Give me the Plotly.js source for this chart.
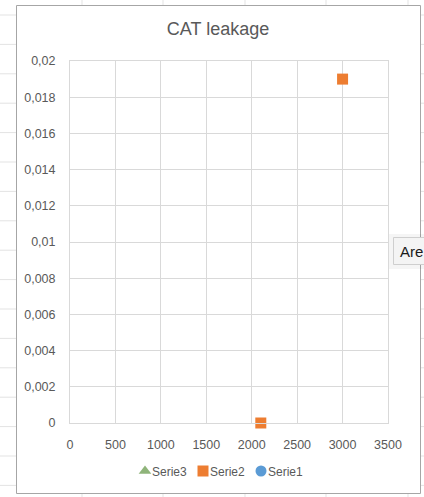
<!DOCTYPE html>
<html>
<head>
<meta charset="utf-8">
<script src="https://cdn.plot.ly/plotly-3.0.1.min.js"></script>
<style>
  html, body { margin: 0; padding: 0; background: #ffffff; }
  #chart { width: 424px; height: 497px; }
</style>
</head>
<body>
<div id="chart"></div>
<script>
// ---- data ----
var seriesNames = ['Serie3', 'Serie2', 'Serie1'];
var serie3X = [null];
var serie3Y = [null];
var serie2X = [3000, 2100];
var serie2Y = [0.019, 0];
var serie1X = [null];
var serie1Y = [null];
var xTicks = [0, 500, 1000, 1500, 2000, 2500, 3000, 3500];
var yTicks = [0, 0.002, 0.004, 0.006, 0.008, 0.01, 0.012, 0.014, 0.016, 0.018, 0.02];
var yTickLabels = ['0', '0,002', '0,004', '0,006', '0,008', '0,01', '0,012', '0,014', '0,016', '0,018', '0,02'];
var xTickLabels = ['0', '500', '1000', '1500', '2000', '2500', '3000', '3500'];

// ---- figure geometry (pixels) ----
var W = 424, H = 497;
var M = { l: 70, r: 36, t: 61, b: 74 };
var PW = W - M.l - M.r, PH = H - M.t - M.b;
function px(x) { return (x - M.l) / PW; }          // pixel x -> paper x
function py(y) { return (H - M.b - y) / PH; }      // pixel y (from top) -> paper y

var TXT = '#595959';
var FONT = 'Liberation Sans, Arial, sans-serif';

// spreadsheet cell grid behind the chart object
var shapes = [];
var cellLine = { color: '#e3e3e3', width: 1 };
for (var k = 0; k <= 16; k++) {
  var gy = 15 + 29.4 * k;
  shapes.push({ type: 'line', xref: 'paper', yref: 'paper', layer: 'below',
    x0: px(0), x1: px(W), y0: py(gy), y1: py(gy), line: cellLine });
}
[82, 163, 245, 326, 408].forEach(function (gx) {
  shapes.push({ type: 'line', xref: 'paper', yref: 'paper', layer: 'below',
    x0: px(gx), x1: px(gx), y0: py(0), y1: py(H), line: cellLine });
});
// chart object frame
shapes.push({ type: 'rect', xref: 'paper', yref: 'paper', layer: 'below',
  x0: px(16.5), x1: px(420.5), y0: py(5.5), y1: py(493.5),
  fillcolor: '#ffffff', line: { color: '#a6a6a6', width: 1 } });

// hover tip box on the right edge (soft shadow + box)
shapes.push({ type: 'rect', xref: 'paper', yref: 'paper', layer: 'above',
  x0: px(389), x1: px(430), y0: py(234), y1: py(269),
  fillcolor: 'rgba(0,0,0,0.04)', line: { width: 0 } });
shapes.push({ type: 'rect', xref: 'paper', yref: 'paper', layer: 'above',
  x0: px(393.5), x1: px(430), y0: py(237.5), y1: py(264.5),
  fillcolor: '#f4f4f4', line: { color: '#cfcfcf', width: 1 } });

var marker = function (sym, color) {
  return { symbol: sym, size: 11, color: color, line: { width: 0 } };
};

var traces = [
  { type: 'scatter', mode: 'markers', name: seriesNames[0], x: serie3X, y: serie3Y,
    marker: marker('triangle-up', '#8fb47a'), cliponaxis: false },
  { type: 'scatter', mode: 'markers', name: seriesNames[1], x: serie2X, y: serie2Y,
    marker: marker('square', '#ed7d31'), cliponaxis: false },
  { type: 'scatter', mode: 'markers', name: seriesNames[2], x: serie1X, y: serie1Y,
    marker: marker('circle', '#5b9bd5'), cliponaxis: false }
];

var gridCol = '#d9d9d9';
var layout = {
  width: W, height: H, autosize: false,
  margin: M,
  paper_bgcolor: '#ffffff',
  plot_bgcolor: 'rgba(0,0,0,0)',
  font: { family: FONT, color: TXT, size: 12 },
  showlegend: true,
  title: {
    text: 'CAT leakage',
    font: { family: FONT, size: 18, color: TXT },
    xref: 'container', yref: 'container',
    x: 218 / W, y: 1 - 29 / H, xanchor: 'center', yanchor: 'middle'
  },
  xaxis: {
    range: [0, 3500], tickvals: xTicks, ticktext: xTickLabels,
    showgrid: true, gridcolor: gridCol, gridwidth: 1,
    showline: true, linecolor: gridCol, linewidth: 1, mirror: true,
    zeroline: false, ticks: 'outside', ticklen: 10, tickcolor: 'rgba(0,0,0,0)',
    tickfont: { family: FONT, size: 12.5, color: TXT }, fixedrange: true
  },
  yaxis: {
    range: [0, 0.02], tickvals: yTicks, ticktext: yTickLabels,
    showgrid: true, gridcolor: gridCol, gridwidth: 1,
    showline: true, linecolor: gridCol, linewidth: 1, mirror: true,
    zeroline: false, ticks: 'outside', ticklen: 11, tickcolor: 'rgba(0,0,0,0)',
    tickfont: { family: FONT, size: 12.5, color: TXT }, fixedrange: true
  },
  legend: {
    orientation: 'h', xref: 'container', yref: 'container',
    x: 212 / W, y: 1 - 471 / H, xanchor: 'center', yanchor: 'middle',
    font: { family: FONT, size: 12, color: TXT },
    itemwidth: 30, entrywidth: 13, entrywidthmode: 'pixels',
    bgcolor: 'rgba(0,0,0,0)', traceorder: 'normal'
  },
  shapes: shapes,
  annotations: [{
    xref: 'paper', yref: 'paper', x: px(398), y: py(251),
    xanchor: 'left', yanchor: 'middle', showarrow: false,
    text: 'Are', font: { family: FONT, size: 15, color: '#1a1a1a' }
  }]
};

Plotly.newPlot('chart', traces, layout, { displayModeBar: false, staticPlot: true })
  .then(function (gd) {
    // pull the legend labels in close to their symbols, and let the last
    // label run past the legend box edge
    gd.querySelectorAll('.legend .legendtext').forEach(function (t) {
      t.setAttribute('x', 27);
    });
    gd.querySelectorAll('.legend .scrollbox, .legend').forEach(function (g) {
      g.removeAttribute('clip-path');
      g.style.clipPath = 'none';
    });
  });
</script>
</body>
</html>
